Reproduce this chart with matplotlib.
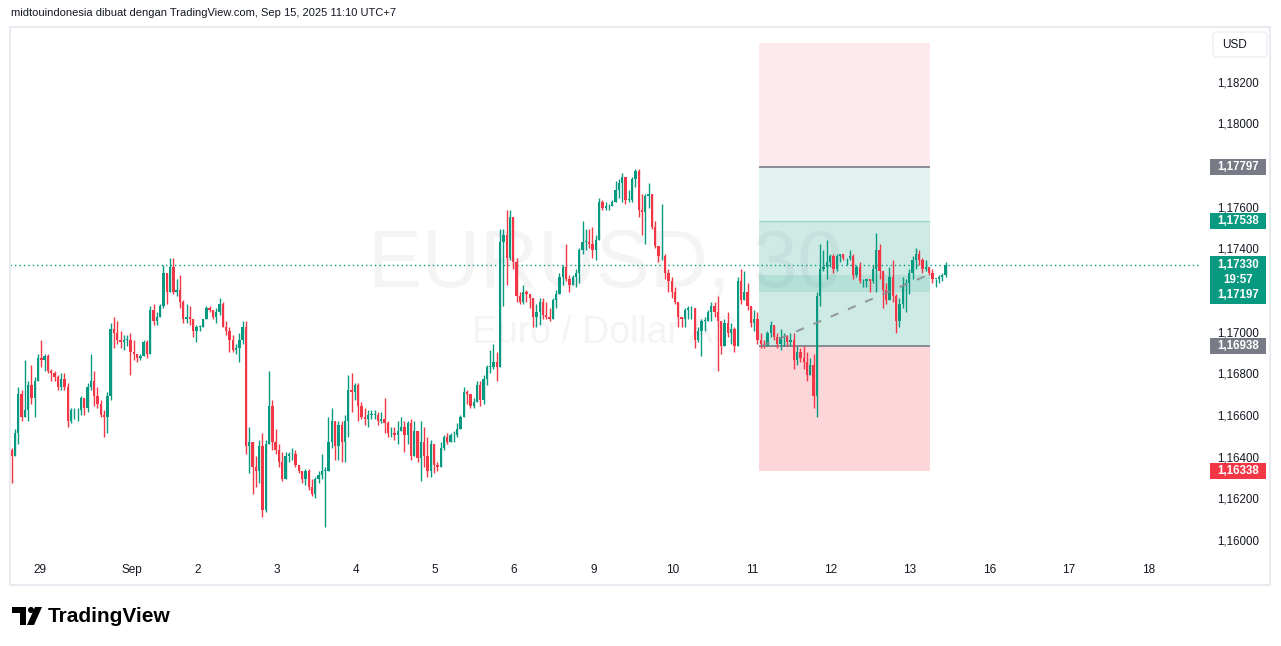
import matplotlib
matplotlib.use("Agg")
import matplotlib.pyplot as plt
from matplotlib.patches import Rectangle, FancyBboxPatch, Polygon, Circle
from matplotlib.transforms import Affine2D, blended_transform_factory

highs = [
    1.1645, 1.1654, 1.1674, 1.1673, 1.1687, 1.1677, 1.1685, 1.1679, 1.1690, 1.1697,
    1.1690, 1.1690, 1.1683, 1.1682, 1.1680, 1.1681, 1.1681, 1.1676, 1.1664, 1.1664,
    1.1664, 1.1670, 1.1669, 1.1676, 1.1690, 1.1682, 1.1674, 1.1668, 1.1663, 1.1672,
    1.1705, 1.1708, 1.1706, 1.1701, 1.1699, 1.1699, 1.1700, 1.1697, 1.1690, 1.1690,
    1.1697, 1.1697, 1.1713, 1.1714, 1.1710, 1.1714, 1.1733, 1.1727, 1.1736, 1.1736,
    1.1726, 1.1728, 1.1716, 1.1714, 1.1713, 1.1707, 1.1704, 1.1704, 1.1707, 1.1713,
    1.1713, 1.1711, 1.1712, 1.1717, 1.1715, 1.1706, 1.1703, 1.1699, 1.1695, 1.1700,
    1.1706, 1.1706, 1.1655, 1.1647, 1.1641, 1.1649, 1.1652, 1.1649, 1.1682, 1.1668,
    1.1654, 1.1647, 1.1643, 1.1643, 1.1643, 1.1645, 1.1644, 1.1637, 1.1634, 1.1635,
    1.1635, 1.1630, 1.1631, 1.1634, 1.1642, 1.1636, 1.1660, 1.1664, 1.1657, 1.1658,
    1.1658, 1.1661, 1.1680, 1.1681, 1.1676, 1.1676, 1.1667, 1.1664, 1.1663, 1.1663,
    1.1663, 1.1662, 1.1662, 1.1669, 1.1658, 1.1655, 1.1655, 1.1658, 1.1660, 1.1658,
    1.1658, 1.1659, 1.1658, 1.1653, 1.1658, 1.1655, 1.1650, 1.1649, 1.1647, 1.1638,
    1.1648, 1.1651, 1.1652, 1.1652, 1.1653, 1.1657, 1.1661, 1.1674, 1.1673, 1.1671,
    1.1669, 1.1677, 1.1677, 1.1680, 1.1685, 1.1692, 1.1695, 1.1691, 1.1750, 1.1750,
    1.1759, 1.1759, 1.1750, 1.1736, 1.1720, 1.1723, 1.1721, 1.1719, 1.1717, 1.1714,
    1.1717, 1.1717, 1.1715, 1.1712, 1.1717, 1.1721, 1.1729, 1.1733, 1.1743, 1.1728,
    1.1728, 1.1731, 1.1741, 1.1754, 1.1750, 1.1750, 1.1751, 1.1747, 1.1765, 1.1764,
    1.1763, 1.1762, 1.1764, 1.1773, 1.1774, 1.1777, 1.1775, 1.1769, 1.1775, 1.1779,
    1.1779, 1.1767, 1.1767, 1.1772, 1.1767, 1.1754, 1.1742, 1.1762, 1.1738, 1.1731,
    1.1727, 1.1722, 1.1715, 1.1708, 1.1712, 1.1713, 1.1713, 1.1712, 1.1703, 1.1707,
    1.1708, 1.1711, 1.1715, 1.1715, 1.1718, 1.1706, 1.1707, 1.1710, 1.1705, 1.1703,
    1.1727, 1.1731, 1.1730, 1.1724, 1.1713, 1.1711, 1.1710, 1.1700, 1.1697, 1.1701,
    1.1706, 1.1704, 1.1700, 1.1702, 1.1700, 1.1699, 1.1700, 1.1700, 1.1694, 1.1693,
    1.1694, 1.1691, 1.1688, 1.1690, 1.1720, 1.1743, 1.1740, 1.1745, 1.1738, 1.1738,
    1.1738, 1.1738, 1.1738, 1.1736, 1.1740, 1.1738, 1.1733, 1.1734, 1.1726, 1.1726,
    1.1726, 1.1733, 1.1748, 1.1743, 1.1730, 1.1724, 1.1732, 1.1735, 1.1719, 1.1717,
    1.1727, 1.1726, 1.1731, 1.1737, 1.1741, 1.1740, 1.1736, 1.1735, 1.1732, 1.1731,
    1.1726, 1.1728, 1.1729, 1.1734,
]
lows = [
    1.1628, 1.1642, 1.1647, 1.1658, 1.1660, 1.1658, 1.1666, 1.1660, 1.1678, 1.1684,
    1.1682, 1.1681, 1.1677, 1.1677, 1.1673, 1.1673, 1.1673, 1.1655, 1.1657, 1.1659,
    1.1658, 1.1661, 1.1661, 1.1662, 1.1673, 1.1665, 1.1664, 1.1660, 1.1650, 1.1652,
    1.1668, 1.1693, 1.1695, 1.1693, 1.1692, 1.1694, 1.1680, 1.1687, 1.1686, 1.1687,
    1.1689, 1.1688, 1.1694, 1.1704, 1.1704, 1.1708, 1.1712, 1.1714, 1.1720, 1.1719,
    1.1718, 1.1712, 1.1705, 1.1705, 1.1704, 1.1698, 1.1696, 1.1701, 1.1703, 1.1707,
    1.1710, 1.1707, 1.1705, 1.1709, 1.1703, 1.1699, 1.1691, 1.1691, 1.1690, 1.1686,
    1.1695, 1.1642, 1.1633, 1.1623, 1.1626, 1.1628, 1.1612, 1.1614, 1.1649, 1.1644,
    1.1642, 1.1636, 1.1629, 1.1630, 1.1638, 1.1639, 1.1636, 1.1633, 1.1628, 1.1627,
    1.1625, 1.1622, 1.1621, 1.1628, 1.1630, 1.1607, 1.1635, 1.1645, 1.1639, 1.1639,
    1.1638, 1.1638, 1.1650, 1.1662, 1.1668, 1.1658, 1.1659, 1.1656, 1.1655, 1.1659,
    1.1659, 1.1656, 1.1657, 1.1652, 1.1650, 1.1650, 1.1649, 1.1647, 1.1654, 1.1643,
    1.1647, 1.1639, 1.1642, 1.1638, 1.1629, 1.1636, 1.1631, 1.1631, 1.1633, 1.1634,
    1.1638, 1.1644, 1.1647, 1.1648, 1.1648, 1.1650, 1.1654, 1.1661, 1.1666, 1.1664,
    1.1664, 1.1667, 1.1665, 1.1666, 1.1675, 1.1681, 1.1683, 1.1677, 1.1685, 1.1713,
    1.1723, 1.1735, 1.1731, 1.1715, 1.1714, 1.1714, 1.1715, 1.1712, 1.1703, 1.1703,
    1.1704, 1.1707, 1.1707, 1.1706, 1.1707, 1.1712, 1.1719, 1.1723, 1.1725, 1.1720,
    1.1724, 1.1722, 1.1724, 1.1738, 1.1740, 1.1741, 1.1736, 1.1735, 1.1749, 1.1759,
    1.1759, 1.1759, 1.1763, 1.1765, 1.1765, 1.1763, 1.1762, 1.1763, 1.1763, 1.1770,
    1.1756, 1.1747, 1.1743, 1.1760, 1.1750, 1.1741, 1.1734, 1.1735, 1.1726, 1.1720,
    1.1717, 1.1714, 1.1703, 1.1703, 1.1703, 1.1707, 1.1707, 1.1693, 1.1696, 1.1689,
    1.1701, 1.1706, 1.1706, 1.1708, 1.1682, 1.1690, 1.1694, 1.1698, 1.1695, 1.1691,
    1.1694, 1.1714, 1.1718, 1.1711, 1.1703, 1.1701, 1.1695, 1.1693, 1.1693, 1.1694,
    1.1698, 1.1697, 1.1693, 1.1692, 1.1694, 1.1694, 1.1694, 1.1683, 1.1685, 1.1686,
    1.1683, 1.1677, 1.1680, 1.1664, 1.1660, 1.1713, 1.1730, 1.1726, 1.1732, 1.1729,
    1.1730, 1.1734, 1.1735, 1.1733, 1.1735, 1.1726, 1.1727, 1.1724, 1.1722, 1.1722,
    1.1720, 1.1724, 1.1720, 1.1726, 1.1712, 1.1714, 1.1716, 1.1715, 1.1700, 1.1703,
    1.1712, 1.1710, 1.1719, 1.1726, 1.1731, 1.1733, 1.1729, 1.1730, 1.1728, 1.1724,
    1.1722, 1.1724, 1.1725, 1.1727,
]
closes = [
    1.1641, 1.1652, 1.1671, 1.1660, 1.1663, 1.1675, 1.1669, 1.1677, 1.1688, 1.1687,
    1.1689, 1.1682, 1.1681, 1.1679, 1.1674, 1.1678, 1.1674, 1.1658, 1.1663, 1.1663,
    1.1663, 1.1669, 1.1664, 1.1674, 1.1677, 1.1670, 1.1666, 1.1661, 1.1660, 1.1670,
    1.1702, 1.1700, 1.1697, 1.1696, 1.1697, 1.1697, 1.1691, 1.1690, 1.1688, 1.1689,
    1.1696, 1.1690, 1.1711, 1.1706, 1.1708, 1.1713, 1.1729, 1.1720, 1.1732, 1.1720,
    1.1721, 1.1715, 1.1707, 1.1708, 1.1707, 1.1701, 1.1703, 1.1703, 1.1707, 1.1712,
    1.1711, 1.1708, 1.1710, 1.1714, 1.1703, 1.1701, 1.1697, 1.1692, 1.1693, 1.1697,
    1.1703, 1.1646, 1.1648, 1.1636, 1.1634, 1.1646, 1.1615, 1.1647, 1.1665, 1.1648,
    1.1644, 1.1638, 1.1630, 1.1641, 1.1642, 1.1642, 1.1637, 1.1634, 1.1630, 1.1634,
    1.1626, 1.1623, 1.1630, 1.1632, 1.1634, 1.1634, 1.1648, 1.1658, 1.1646, 1.1656,
    1.1648, 1.1658, 1.1673, 1.1672, 1.1675, 1.1665, 1.1660, 1.1659, 1.1661, 1.1661,
    1.1661, 1.1658, 1.1659, 1.1657, 1.1652, 1.1652, 1.1651, 1.1653, 1.1655, 1.1651,
    1.1657, 1.1641, 1.1653, 1.1640, 1.1648, 1.1641, 1.1634, 1.1647, 1.1637, 1.1636,
    1.1645, 1.1650, 1.1648, 1.1651, 1.1651, 1.1654, 1.1660, 1.1672, 1.1671, 1.1665,
    1.1667, 1.1675, 1.1668, 1.1678, 1.1684, 1.1684, 1.1686, 1.1684, 1.1744, 1.1747,
    1.1736, 1.1756, 1.1734, 1.1718, 1.1715, 1.1720, 1.1719, 1.1717, 1.1708, 1.1710,
    1.1715, 1.1709, 1.1708, 1.1707, 1.1716, 1.1719, 1.1727, 1.1732, 1.1726, 1.1723,
    1.1727, 1.1729, 1.1740, 1.1744, 1.1744, 1.1743, 1.1740, 1.1745, 1.1763, 1.1760,
    1.1761, 1.1761, 1.1763, 1.1769, 1.1772, 1.1775, 1.1764, 1.1764, 1.1774, 1.1778,
    1.1759, 1.1758, 1.1766, 1.1767, 1.1751, 1.1742, 1.1737, 1.1737, 1.1729, 1.1725,
    1.1720, 1.1715, 1.1708, 1.1707, 1.1711, 1.1712, 1.1712, 1.1697, 1.1701, 1.1706,
    1.1706, 1.1710, 1.1713, 1.1710, 1.1706, 1.1694, 1.1705, 1.1700, 1.1702, 1.1694,
    1.1725, 1.1716, 1.1720, 1.1713, 1.1705, 1.1707, 1.1697, 1.1695, 1.1694, 1.1700,
    1.1704, 1.1698, 1.1695, 1.1698, 1.1698, 1.1696, 1.1697, 1.1687, 1.1691, 1.1688,
    1.1686, 1.1680, 1.1685, 1.1670, 1.1718, 1.1731, 1.1732, 1.1734, 1.1737, 1.1731,
    1.1737, 1.1738, 1.1736, 1.1736, 1.1737, 1.1728, 1.1732, 1.1725, 1.1725, 1.1726,
    1.1725, 1.1731, 1.1740, 1.1730, 1.1721, 1.1716, 1.1727, 1.1718, 1.1706, 1.1714,
    1.1723, 1.1724, 1.1729, 1.1735, 1.1738, 1.1735, 1.1731, 1.1732, 1.1729, 1.1726,
    1.1726, 1.1727, 1.1728, 1.1733,
]
first_open = 1.1644
# forex bars open where the previous one closed
opens = [first_open] + closes[:-1]

# time scale: label and the bar index where that day begins
day_labels = ["29", "Sep", "2", "3", "4", "5", "6", "9", "10", "11", "12", "13", "16", "17", "18"]
day_bars = [8.6, 36.5, 56.5, 80.4, 104.4, 128.3, 152.2, 176.5, 200.4, 224.3, 248.3, 272.2, 296.5, 320.4, 344.4]

# price scale ticks (1,17800 and 1,17200 are covered by labels)
tick_prices = [1.182, 1.180, 1.176, 1.174, 1.170, 1.168, 1.166, 1.164, 1.162, 1.160]

# long position tool
entry = 1.16938
target = 1.17797
stop = 1.16338
upper_level = 1.17538
upper_top = 1.18392
band_low, band_high = 1.17197, 1.17280
last_price = 1.17330
pos_start, pos_end = 226.5, 278.3

GREEN = "#089981"
RED = "#f23645"
GRAY = "#787b86"
TEXT = "#131722"

W, H = 1281, 646
YMIN, YMAX = 1.15936, 1.18470
fig = plt.figure(figsize=(W / 100, H / 100), dpi=100)
fig.patch.set_facecolor("white")
pix = Affine2D().scale(1, -1).translate(0, H)  # pixel coords, origin top-left

ax = fig.add_axes([10 / W, 1 - 555 / H, 1190 / W, 528 / H])
ax.set_xlim(-0.5, 360.1)
ax.set_ylim(YMIN, YMAX)
ax.axis("off")
price_per_px = (YMAX - YMIN) / 528

# watermark
ax.text(0.5, 0.549, "EURUSD, 30", transform=ax.transAxes, ha="center", va="center",
        fontsize=58, color="#9598a1", alpha=0.1, family="Liberation Sans", zorder=0)
ax.text(0.5, 0.42, "Euro / Dollar AS", transform=ax.transAxes, ha="center", va="center",
        fontsize=27, color="#9598a1", alpha=0.1, family="Liberation Sans", zorder=0)

# position tool
w = pos_end - pos_start
ax.add_patch(Rectangle((pos_start, target), w, upper_top - target, color=(242/255, 54/255, 69/255, 0.1), lw=0, zorder=1))
ax.add_patch(Rectangle((pos_start, upper_level), w, target - upper_level, color=(8/255, 153/255, 129/255, 0.11), lw=0, zorder=1))
ax.add_patch(Rectangle((pos_start, entry), w, upper_level - entry, color=(8/255, 153/255, 129/255, 0.2), lw=0, zorder=1))
ax.add_patch(Rectangle((pos_start, stop), w, entry - stop, color=(242/255, 54/255, 69/255, 0.2), lw=0, zorder=1))
ax.add_patch(Rectangle((pos_start, band_low), w, band_high - band_low, color=(8/255, 153/255, 129/255, 0.12), lw=0, zorder=1))
ax.hlines([target, entry], pos_start, pos_end, colors=GRAY, lw=1.2, zorder=2)
ax.hlines(upper_level, pos_start, pos_end, colors=(8/255, 153/255, 129/255, 0.25), lw=1, zorder=2)
ax.plot([pos_start + 0.8, pos_end - 0.6], [entry, band_high], color="#8a8d96", lw=1.5,
        ls=(0, (4, 5)), alpha=0.85, zorder=4)

# candles
n = len(closes)
xs = list(range(n))
cols = [GREEN if c >= o else RED for o, c in zip(opens, closes)]
wick_lo = [min(l, o, c) for o, l, c in zip(opens, lows, closes)]
wick_hi = [max(h, o, c) for o, h, c in zip(opens, highs, closes)]
ax.vlines(xs, wick_lo, wick_hi, colors=cols, lw=1.0, zorder=3)
bottoms = [min(o, c) for o, c in zip(opens, closes)]
heights = [max(abs(c - o), 0.00003) for o, c in zip(opens, closes)]
ax.bar(xs, heights, bottom=bottoms, width=0.7, color=cols, lw=0, zorder=3)

# last price line
ax.axhline(last_price, color=GREEN, lw=1, ls=(0, (1, 2.2)), zorder=2)

# price scale
pax = fig.add_axes([1200 / W, 1 - 555 / H, 70 / W, 528 / H])
pax.set_ylim(YMIN, YMAX)
pax.set_xlim(0, 1)
pax.axis("off")
bt = blended_transform_factory(pax.transAxes, pax.transData)
for p in tick_prices:
    pax.text(0.55, p, f"{p:.5f}".replace(".", ","), transform=bt, ha="center", va="center",
             fontsize=8.3, color=TEXT, family="Liberation Sans")

def price_label(lines, top, bottom, color):
    pax.add_patch(Rectangle((0.143, bottom), 0.8, top - bottom, transform=bt, color=color, lw=0, clip_on=False))
    for txt, y in lines:
        pax.text(0.55, y, txt, transform=bt, ha="center", va="center", fontsize=8.3,
                 color="white", weight="bold", family="Liberation Sans")

half = 8 * price_per_px
for p, c in [(target, GRAY), (upper_level, GREEN), (entry, GRAY), (stop, RED)]:
    price_label([(f"{p:.5f}".replace(".", ","), p)], p + half, p - half, c)
price_label([(f"{last_price:.5f}".replace(".", ","), last_price),
             ("19:57", last_price - 15 * price_per_px),
             (f"{band_low:.5f}".replace(".", ","), last_price - 30 * price_per_px)],
            last_price + 9 * price_per_px, last_price - 39 * price_per_px, GREEN)

# time scale
tax = fig.add_axes([10 / W, 1 - 585 / H, 1190 / W, 30 / H])
tax.set_xlim(-0.5, 360.1)
tax.set_ylim(0, 1)
tax.axis("off")
for lab, b in zip(day_labels, day_bars):
    tax.text(b, 0.5, lab, ha="center", va="center", fontsize=8.5, color=TEXT, family="Liberation Sans")

# frame and currency button
fig.add_artist(Rectangle((10, 27), 1260, 558, transform=pix, fill=False, ec="#e9ebf0", lw=1.5))
fig.add_artist(FancyBboxPatch((1213, 32), 54, 25, boxstyle="round,pad=0,rounding_size=4",
                              transform=pix, fc="white", ec="#eceef2", lw=1))
fig.text(1222, 45, "USD", transform=pix, ha="left", va="center", fontsize=8.5, color=TEXT, family="Liberation Sans")

# header and logo
fig.text(11, 13, "midtouindonesia dibuat dengan TradingView.com, Sep 15, 2025 11:10 UTC+7",
         transform=pix, ha="left", va="center", fontsize=8.0, color=TEXT, family="Liberation Sans")
fig.add_artist(Polygon([(12, 607), (26, 607), (26, 625), (20, 625), (20, 613), (12, 613)],
                       closed=True, transform=pix, color="black", lw=0))
fig.add_artist(Circle((31, 610), 3, transform=pix, color="black", lw=0))
fig.add_artist(Polygon([(27, 625), (34, 625), (42, 607), (35, 607)], closed=True,
                       transform=pix, color="black", lw=0))
fig.text(48, 616, "TradingView", transform=pix, ha="left", va="center", fontsize=15,
         weight="bold", color="black", family="Liberation Sans")

fig.savefig("out.png", dpi=100)
